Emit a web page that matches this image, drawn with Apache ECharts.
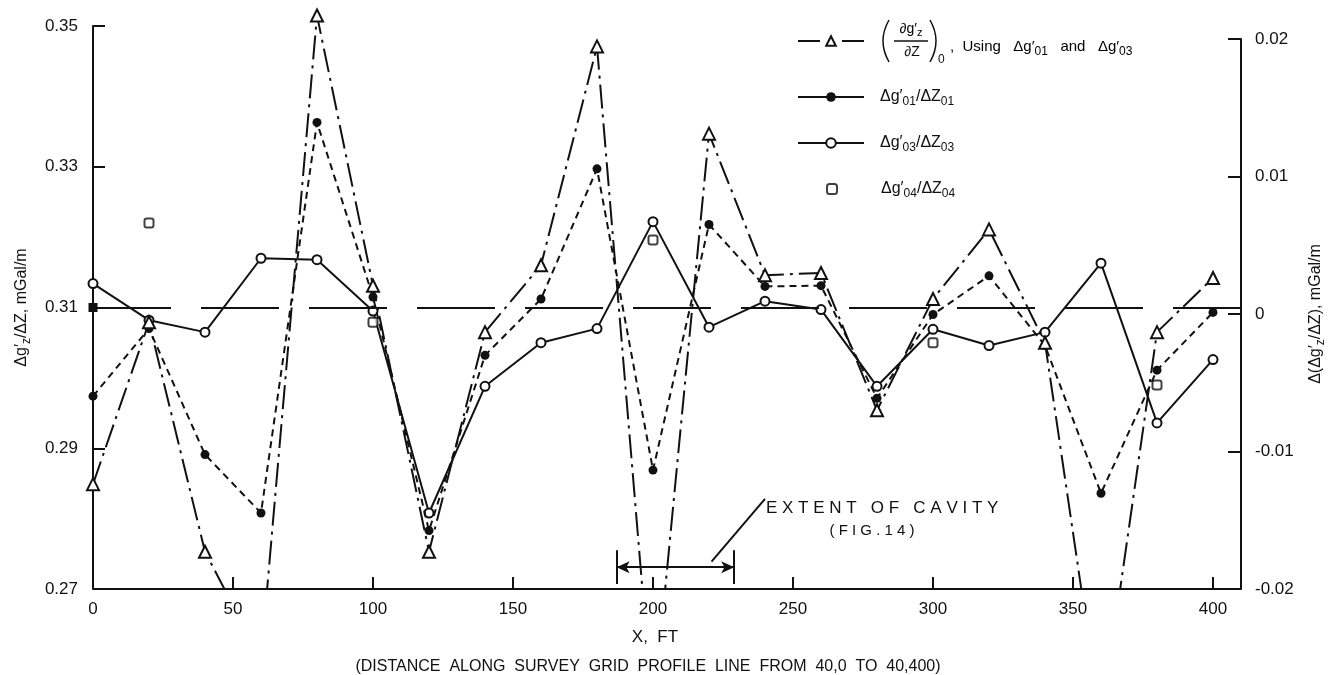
<!DOCTYPE html>
<html>
<head>
<meta charset="utf-8">
<script src="https://cdn.jsdelivr.net/npm/echarts@6/dist/echarts.min.js"></script>
<style>
  html, body { margin: 0; padding: 0; background: #fff; }
  #chart { width: 1328px; height: 675px; }
</style>
</head>
<body>
<div id="chart"></div>
<script>
// stations along the profile line, ft
const xFeet = [0, 20, 40, 60, 80, 100, 120, 140, 160, 180, 200, 220, 240, 260, 280, 300, 320, 340, 360, 380, 400]
// (dg'z/dZ)0 using dg'01 and dg'03
const gradExtrap = [0.2849, 0.3079, 0.2753, 0.2600, 0.3515, 0.3131, 0.2753, 0.3065, 0.3160, 0.3471, 0.2520,
  0.3347, 0.3146, 0.3149, 0.2954, 0.3112, 0.3211, 0.3050, 0.2510, 0.3065, 0.3142]
// dg'01/dZ01
const grad01 = [0.2974, 0.3070, 0.2891, 0.2808, 0.3363, 0.3115, 0.2783, 0.3032, 0.3112, 0.3297, 0.2869,
  0.3218, 0.3130, 0.3131, 0.2971, 0.3090, 0.3145, 0.3046, 0.2836, 0.3011, 0.3093]
// dg'03/dZ03
const grad03 = [0.3134, 0.3082, 0.3065, 0.3170, 0.3168, 0.3095, 0.2808, 0.2988, 0.3050, 0.3070, 0.3222,
  0.3072, 0.3109, 0.3097, 0.2988, 0.3069, 0.3046, 0.3065, 0.3163, 0.2936, 0.3026]
// dg'04/dZ04 (only a few stations)
const grad04X = [20, 100, 200, 300, 380]
const grad04 = [0.3220, 0.3079, 0.3196, 0.3050, 0.2990]
// mean level (0 on the right-hand axis)
const meanGradient = 0.309
// extent of cavity, ft
const cavityFrom = 187
const cavityTo = 229

// left axis range and right axis range
const leftMin = 0.27
const leftMax = 0.35
const rightMin = -0.02
const rightMax = 0.02

const ink = '#111'
const font = 'Liberation Sans, Arial, sans-serif'
const subStyle = { fontSize: 12, fontFamily: font, color: ink, padding: [10, 0, 0, 0] }
const mainStyle = { fontSize: 16, fontFamily: font, color: ink }

// layout: series grid is taller than the drawn left axis so the peak at 80 ft is not cut
const chartH = 675
const gridBottom = 86
const seriesTop = 8
const leftAxisTop = 26
const rightAxisTop = 39
const seriesMax = leftMin + (leftMax - leftMin) * (chartH - gridBottom - seriesTop) / (chartH - gridBottom - leftAxisTop)

const NAME_EXT = 'gradExtrap'
const NAME_01 = 'grad01'
const NAME_03 = 'grad03'
const NAME_04 = 'grad04'

const legendText = {
  [NAME_EXT]: '',
  [NAME_01]: '{m|Δg′}{s|01}{m|/ΔZ}{s|01}',
  [NAME_03]: '{m|Δg′}{s|03}{m|/ΔZ}{s|03}',
  [NAME_04]: '{m|Δg′}{s|04}{m|/ΔZ}{s|04}'
}

function pairs(xs, ys) {
  return xs.map((x, i) => [x, ys[i]])
}

function makeLegend(name, centerY, extra) {
  return Object.assign({
    data: [name],
    left: 797,
    top: centerY - 6,
    padding: 0,
    itemWidth: 66,
    itemHeight: 12,
    itemGap: 0,
    selectedMode: false,
    formatter: n => legendText[n],
    textStyle: { rich: { m: mainStyle, s: subStyle }, padding: [0, 0, 0, 11] }
  }, extra || {})
}

const axisCommon = {
  axisLine: { show: true, onZero: false, lineStyle: { color: ink, width: 2 } },
  axisTick: { show: true, inside: true, length: 12, lineStyle: { color: ink, width: 2 } },
  splitLine: { show: false }
}

function makeGrid(top) {
  return { left: 93, right: 87, top: top, bottom: gridBottom, containLabel: false, outerBoundsMode: 'none' }
}

const chart = echarts.init(document.getElementById('chart'))

const option = {
  animation: false,
  backgroundColor: '#fff',
  grid: [makeGrid(seriesTop), makeGrid(leftAxisTop), makeGrid(rightAxisTop)],
  legend: [
    makeLegend(NAME_EXT, 41, { data: [{ name: NAME_EXT, lineStyle: { type: [22, 22] } }] }),
    makeLegend(NAME_01, 95, { data: [{ name: NAME_01, lineStyle: { type: 'solid' } }] }),
    makeLegend(NAME_03, 141),
    makeLegend(NAME_04, 186, {
      left: 826, itemWidth: 10, itemHeight: 10, top: 181,
      textStyle: { rich: { m: mainStyle, s: subStyle }, padding: [0, 0, 0, 39] }
    })
  ],
  xAxis: [
    Object.assign({}, axisCommon, {
      gridIndex: 0,
      type: 'value',
      min: 0,
      max: 410,
      interval: 50,
      axisLine: { show: false },
      axisLabel: {
        margin: 12, fontSize: 17, color: ink, fontFamily: font,
        showMaxLabel: false,
        formatter: v => (v % 50 === 0 ? String(v) : '')
      }
    }),
    { gridIndex: 1, type: 'value', min: 0, max: 410, show: false },
    { gridIndex: 2, type: 'value', min: 0, max: 410, show: false }
  ],
  yAxis: [
    { gridIndex: 0, type: 'value', min: leftMin, max: seriesMax, show: false },
    Object.assign({}, axisCommon, {
      gridIndex: 1,
      type: 'value',
      position: 'left',
      min: leftMin,
      max: leftMax,
      interval: 0.02,
      axisLabel: { margin: 15, fontSize: 17, color: ink, fontFamily: font, formatter: v => v.toFixed(2) },
      name: '{m|Δg′}{s|z}{m|/ΔZ, mGal/m}',
      nameLocation: 'middle',
      nameRotate: 90,
      nameGap: 60,
      nameTextStyle: { rich: { m: { fontSize: 16, fontFamily: font, color: ink }, s: subStyle } }
    }),
    Object.assign({}, axisCommon, {
      gridIndex: 2,
      type: 'value',
      position: 'right',
      min: rightMin,
      max: rightMax,
      interval: 0.01,
      axisTick: { show: true, inside: true, length: 13, lineStyle: { color: ink, width: 2 } },
      axisLabel: { margin: 14, fontSize: 17, color: ink, fontFamily: font },
      name: '{m|Δ(Δg′}{s|z}{m|/ΔZ), mGal/m}',
      nameLocation: 'middle',
      nameRotate: 90,
      nameGap: 64,
      nameTextStyle: { rich: { m: { fontSize: 16, fontFamily: font, color: ink }, s: subStyle } }
    })
  ],
  series: [
    {
      // draws the bottom axis line across the series grid
      type: 'line',
      xAxisIndex: 0,
      yAxisIndex: 0,
      data: [],
      silent: true,
      markLine: {
        silent: true,
        label: { show: false },
        symbol: ['none', 'none'],
        lineStyle: { color: ink, width: 2, type: 'solid' },
        data: [{ yAxis: leftMin }]
      }
    },
    {
      name: NAME_03,
      type: 'line',
      xAxisIndex: 0,
      yAxisIndex: 0,
      data: pairs(xFeet, grad03),
      symbol: 'emptyCircle',
      symbolSize: 9,
      showAllSymbol: true,
      lineStyle: { color: ink, width: 2, type: 'solid' },
      itemStyle: { color: ink, borderWidth: 2 },
      z: 3,
      markLine: {
        silent: true,
        label: { show: false },
        symbol: ['none', 'none'],
        lineStyle: { color: ink, width: 2, type: 'solid' },
        data: [
          [
            { coord: [cavityFrom, 0.2731], symbol: 'arrow', symbolSize: [9, 13] },
            { coord: [cavityTo, 0.2731], symbol: 'arrow', symbolSize: [9, 13] }
          ],
          [{ coord: [cavityFrom, 0.2707] }, { coord: [cavityFrom, 0.2755] }],
          [{ coord: [cavityTo, 0.2707] }, { coord: [cavityTo, 0.2755] }],
          [{ coord: [220.9, 0.2739] }, { coord: [240, 0.2828] }],
          {
            yAxis: meanGradient,
            symbol: ['circle', 'none'],
            symbolSize: 9,
            lineStyle: { type: [78, 30], width: 2 }
          }
        ]
      }
    },
    {
      name: NAME_01,
      type: 'line',
      xAxisIndex: 0,
      yAxisIndex: 0,
      data: pairs(xFeet, grad01),
      symbol: 'circle',
      symbolSize: 9,
      showAllSymbol: true,
      lineStyle: { color: ink, width: 2, type: [7, 5] },
      itemStyle: { color: ink },
      z: 4
    },
    {
      name: NAME_EXT,
      type: 'line',
      xAxisIndex: 0,
      yAxisIndex: 0,
      data: pairs(xFeet, gradExtrap),
      symbol: 'emptyTriangle',
      symbolSize: 12,
      showAllSymbol: true,
      lineStyle: { color: ink, width: 2, type: [24, 6, 3, 6] },
      itemStyle: { color: ink, borderWidth: 2 },
      z: 5
    },
    {
      name: NAME_04,
      type: 'scatter',
      xAxisIndex: 0,
      yAxisIndex: 0,
      data: pairs(grad04X, grad04),
      symbol: 'emptyRoundRect',
      symbolSize: 9,
      itemStyle: { color: ink, borderWidth: 2.5 },
      z: 6
    }
  ],
  graphic: [
    // fraction in the first legend row
    { type: 'bezierCurve', shape: { x1: 889, y1: 20, cpx1: 877, cpy1: 41, x2: 889, y2: 62 }, style: { stroke: ink, lineWidth: 1.5, fill: null } },
    { type: 'text', x: 911, y: 29, style: { text: '{m|∂g′}{s|z}', rich: { m: { fontSize: 14, fontFamily: font, color: ink }, s: { fontSize: 11, fontFamily: font, color: ink, padding: [8, 0, 0, 0] } }, textAlign: 'center', textVerticalAlign: 'middle' } },
    { type: 'line', shape: { x1: 894, y1: 41, x2: 928, y2: 41 }, style: { stroke: ink, lineWidth: 1.5 } },
    { type: 'text', x: 912, y: 52, style: { text: '∂Z', font: '14px ' + font, fill: ink, textAlign: 'center', textVerticalAlign: 'middle' } },
    { type: 'bezierCurve', shape: { x1: 930, y1: 20, cpx1: 942, cpy1: 41, x2: 930, y2: 62 }, style: { stroke: ink, lineWidth: 1.5, fill: null } },
    { type: 'text', x: 938, y: 60, style: { text: '0', font: '12px ' + font, fill: ink, textVerticalAlign: 'middle' } },
    { type: 'text', x: 950, y: 47, style: { text: '{m|,  Using   Δg′}{s|01}{m|   and   Δg′}{s|03}', rich: { m: { fontSize: 15, fontFamily: font, color: ink }, s: subStyle }, textVerticalAlign: 'middle' } },
    // cavity annotation
    { type: 'text', x: 766, y: 508, style: { text: 'E X T E N T   O F   C A V I T Y', font: '17px ' + font, fill: ink, textVerticalAlign: 'middle' } },
    { type: 'text', x: 872, y: 531, style: { text: '( F I G . 1 4 )', font: '15px ' + font, fill: ink, textAlign: 'center', textVerticalAlign: 'middle' } },
    // x-axis captions
    { type: 'text', x: 655, y: 637, style: { text: 'X,  FT', font: '17px ' + font, fill: ink, textAlign: 'center', textVerticalAlign: 'middle' } },
    { type: 'text', x: 648, y: 667, style: { text: '(DISTANCE  ALONG  SURVEY  GRID  PROFILE  LINE  FROM  40,0  TO  40,400)', font: '16px ' + font, fill: ink, textAlign: 'center', textVerticalAlign: 'middle' } }
  ]
}

chart.setOption(option)
</script>
</body>
</html>
